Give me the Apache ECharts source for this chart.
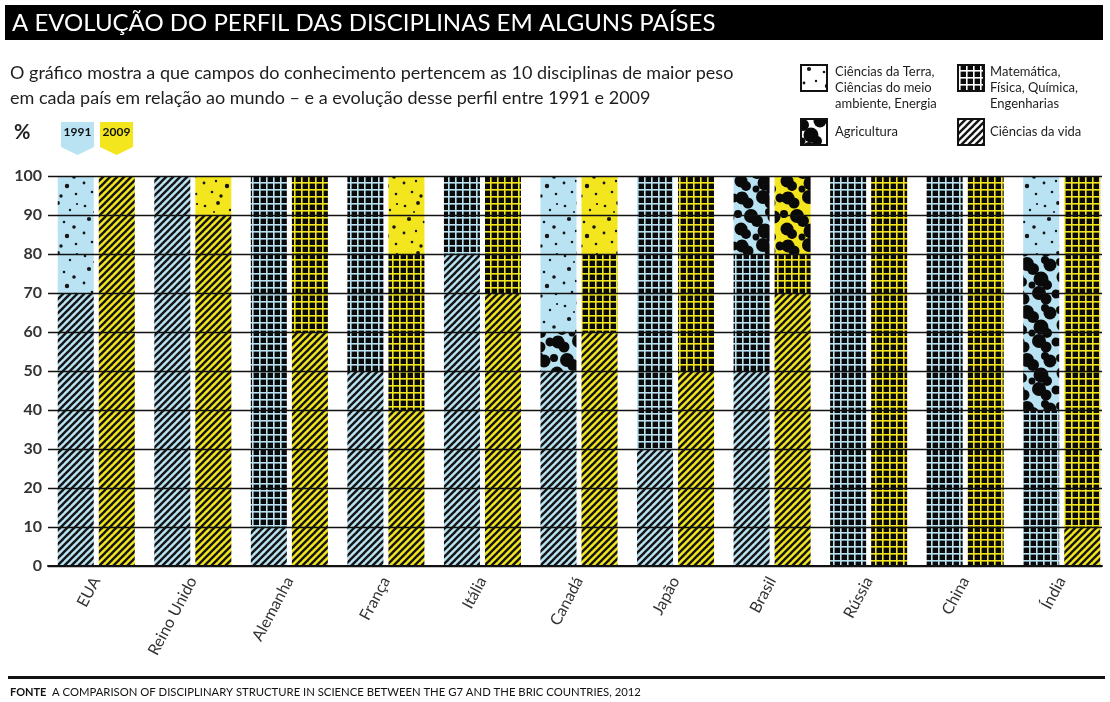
<!DOCTYPE html>
<html>
<head>
<meta charset="utf-8">
<script src="https://cdn.jsdelivr.net/npm/echarts@6/dist/echarts.min.js"></script>
<style>
  html, body { margin: 0; padding: 0; background: #fff; }
  #main { width: 1110px; height: 702px; }
</style>
</head>
<body>
<div id="main"></div>
<script>
var categories = ['EUA', 'Reino Unido', 'Alemanha', 'França', 'Itália', 'Canadá', 'Japão', 'Brasil', 'Rússia', 'China', 'Índia'];

// 1991
var vida1991  = [70, 100, 10, 50, 80, 50, 30, 50, 0, 0, 0];
var mat1991   = [0, 0, 90, 50, 20, 0, 70, 30, 100, 100, 40];
var agri1991  = [0, 0, 0, 0, 0, 10, 0, 20, 0, 0, 40];
var terra1991 = [30, 0, 0, 0, 0, 40, 0, 0, 0, 0, 20];

// 2009
var vida2009  = [100, 90, 60, 40, 70, 60, 50, 70, 0, 0, 10];
var mat2009   = [0, 0, 40, 40, 30, 20, 50, 10, 100, 100, 90];
var agri2009  = [0, 0, 0, 0, 0, 0, 0, 20, 0, 0, 0];
var terra2009 = [0, 10, 0, 20, 0, 20, 0, 0, 0, 0, 0];

var BLUE = '#b9e3f3';
var YELLOW = '#f3e61e';
var FONT = 'Lato';

// pattern tiles drawn on canvas
function tile(w, h, bg, draw) {
    var c = document.createElement('canvas');
    c.width = w; c.height = h;
    var ctx = c.getContext('2d');
    ctx.fillStyle = bg;
    ctx.fillRect(0, 0, w, h);
    draw(ctx);
    return { image: c, repeat: 'repeat' };
}

function hatch(bg) {
    return tile(7, 7, bg, function (ctx) {
        ctx.strokeStyle = '#151515';
        ctx.lineWidth = 2.4;
        for (var k = -1; k <= 1; k++) {
            ctx.beginPath();
            ctx.moveTo(k * 7 - 1, 8);
            ctx.lineTo(k * 7 + 8, -1);
            ctx.stroke();
        }
    });
}

function grid(bg) {
    return tile(7, 7, '#0a0a0a', function (ctx) {
        ctx.fillStyle = bg;
        ctx.fillRect(0, 0, 7, 1.6);
        ctx.fillRect(0, 0, 1.6, 7);
    });
}

function dots(bg) {
    var pts = [[5, 6, 1.3], [18, 3, 1.9], [30, 10, 1.2], [9, 19, 2.1], [24, 22, 1.3], [34, 27, 1.8],
               [4, 33, 1.4], [16, 31, 1.2], [27, 36, 2.2], [12, 42, 1.3], [36, 44, 1.3], [21, 46, 1.7],
               [37, 4, 1.1], [14, 12, 1.0]];
    return tile(40, 50, bg, function (ctx) {
        ctx.fillStyle = '#151515';
        pts.forEach(function (p) {
            ctx.beginPath();
            ctx.arc(p[0], p[1], p[2], 0, Math.PI * 2);
            ctx.fill();
        });
    });
}

function blobs(bg) {
    var pts = [[6, 6, 6.5], [12, 11, 5.5], [27, 5, 7], [34, 11, 5.5], [15, 24, 7], [21, 29, 6],
               [38, 25, 6.5], [33, 20, 4], [5, 37, 6.5], [10, 42, 5], [29, 39, 7.5], [35, 45, 5],
               [44, 6, 4.5], [2, 22, 4], [20, 45, 3.5]];
    return tile(46, 48, bg, function (ctx) {
        ctx.fillStyle = '#0a0a0a';
        pts.forEach(function (p) {
            for (var dx = -46; dx <= 46; dx += 46) {
                for (var dy = -48; dy <= 48; dy += 48) {
                    ctx.beginPath();
                    ctx.arc(p[0] + dx, p[1] + dy, p[2], 0, Math.PI * 2);
                    ctx.fill();
                }
            }
        });
    });
}

function barSeries(name, data, stack, fill) {
    return {
        name: name,
        type: 'bar',
        xAxisIndex: 1,
        yAxisIndex: 1,
        stack: stack,
        data: data,
        barWidth: 36,
        barGap: '14%',
        itemStyle: { color: fill },
        emphasis: { disabled: true },
        z: 2
    };
}

function swatch(x, y, fill) {
    return {
        type: 'rect',
        shape: { x: x, y: y, width: 26, height: 26 },
        style: { fill: fill, stroke: '#111', lineWidth: 2 }
    };
}

function label(x, y, text, size, extra) {
    var st = { text: text, x: x, y: y, font: (extra && extra.weight || 'normal') + ' ' + size + 'px ' + FONT,
               fill: (extra && extra.fill) || '#1e1e1e', textVerticalAlign: 'middle',
               textAlign: (extra && extra.align) || 'left' };
    return { type: 'text', style: st };
}

var chart = echarts.init(document.getElementById('main'));

var option = {
    animation: false,
    textStyle: { fontFamily: FONT },
    grid: [
        { left: 48, top: 176, width: 1054, bottom: 136 },
        { left: 48, top: 176, width: 1063, bottom: 136 }
    ],
    xAxis: [
        {
            gridIndex: 0, type: 'value', min: 0, max: 1,
            axisLine: { show: true, onZero: false, lineStyle: { color: '#111', width: 2 } },
            axisTick: { show: false }, axisLabel: { show: false }, splitLine: { show: false },
            z: 5
        },
        {
            gridIndex: 1, type: 'category', data: categories,
            axisLine: { show: false }, axisTick: { show: false },
            axisLabel: { rotate: 62, fontSize: 16, color: '#333', margin: 12, fontFamily: FONT }
        }
    ],
    yAxis: [
        {
            gridIndex: 0, type: 'value', min: 0, max: 100, interval: 10,
            axisLine: { show: false }, axisTick: { show: false },
            axisLabel: { fontSize: 16, color: '#333', margin: 6, fontFamily: FONT, fontWeight: 'bold' },
            splitLine: { show: true, lineStyle: { color: '#111', width: 1.4 } },
            z: 5
        },
        {
            gridIndex: 1, type: 'value', min: 0, max: 100, interval: 10, show: false
        }
    ],
    series: [
        barSeries('Ciências da vida 1991', vida1991, 'y1991', hatch(BLUE)),
        barSeries('Matemática 1991', mat1991, 'y1991', grid(BLUE)),
        barSeries('Agricultura 1991', agri1991, 'y1991', blobs(BLUE)),
        barSeries('Ciências da Terra 1991', terra1991, 'y1991', dots(BLUE)),
        barSeries('Ciências da vida 2009', vida2009, 'y2009', hatch(YELLOW)),
        barSeries('Matemática 2009', mat2009, 'y2009', grid(YELLOW)),
        barSeries('Agricultura 2009', agri2009, 'y2009', blobs(YELLOW)),
        barSeries('Ciências da Terra 2009', terra2009, 'y2009', dots(YELLOW))
    ],
    graphic: [
        // title bar
        { type: 'rect', shape: { x: 5, y: 5, width: 1098, height: 35 }, style: { fill: '#000' } },
        label(12, 23, 'A EVOLUÇÃO DO PERFIL DAS DISCIPLINAS EM ALGUNS PAÍSES', 24, { fill: '#fff' }),
        // subtitle
        label(10, 73, 'O gráfico mostra a que campos do conhecimento pertencem as 10 disciplinas de maior peso', 18),
        label(10, 98, 'em cada país em relação ao mundo – e a evolução desse perfil entre 1991 e 2009', 18),
        // % and year pennants
        label(14, 133, '%', 20, { weight: 'bold' }),
        { type: 'polygon', shape: { points: [[61, 122], [94, 122], [94, 147], [77.5, 155], [61, 147]] }, style: { fill: BLUE } },
        { type: 'polygon', shape: { points: [[100, 122], [133, 122], [133, 147], [116.5, 155], [100, 147]] }, style: { fill: YELLOW } },
        label(77.5, 132, '1991', 12, { weight: 'bold', align: 'center', fill: '#111' }),
        label(116.5, 132, '2009', 12, { weight: 'bold', align: 'center', fill: '#111' }),
        // discipline legend
        swatch(801, 65, dots('#fff')),
        label(835, 72, 'Ciências da Terra,', 13),
        label(835, 88, 'Ciências do meio', 13),
        label(835, 104, 'ambiente, Energia', 13),
        swatch(958, 65, grid('#fff')),
        label(990, 72, 'Matemática,', 13),
        label(990, 88, 'Física, Química,', 13),
        label(990, 104, 'Engenharias', 13),
        swatch(801, 119, blobs('#fff')),
        label(835, 132, 'Agricultura', 13),
        swatch(958, 119, hatch('#fff')),
        label(990, 132, 'Ciências da vida', 13),
        // footer
        { type: 'rect', shape: { x: 8, y: 676, width: 1097, height: 3 }, style: { fill: '#111' } },
        label(10, 692, 'FONTE', 11, { weight: 'bold', fill: '#111' }),
        label(52, 692, 'A COMPARISON OF DISCIPLINARY STRUCTURE IN SCIENCE BETWEEN THE G7 AND THE BRIC COUNTRIES, 2012', 11.3, { fill: '#111' })
    ]
};

chart.setOption(option);
</script>
</body>
</html>
